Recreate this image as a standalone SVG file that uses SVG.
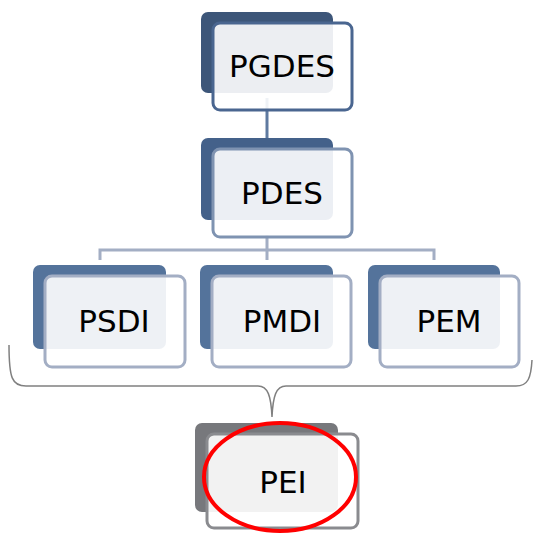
<svg xmlns="http://www.w3.org/2000/svg" width="533" height="533" viewBox="0 0 533 533">
<style>
  .lbl { font-family: "DejaVu Sans", Verdana, sans-serif; font-size: 31px; fill: #000; text-anchor: middle; }
  .front { fill: #ffffff; fill-opacity: 0.9; stroke-width: 3; }
  .conn { fill: none; stroke-width: 3; }
</style>
<rect width="533" height="533" fill="#ffffff"/>
<g id="connectors">
  <line class="conn" x1="267" y1="98" x2="267" y2="142" stroke="#5f7aa0"/>
  <path class="conn" d="M267,235 L267,250 M100,260 L100,250 L434,250 L434,260 M267,250 L267,260" stroke="#a3aec4"/>
  <path d="M9,345 C9,378 12,386 26,386 L258,386 C268,386 271,396 272,417 C273,396 276,386 286,386 L516,386 C528,386 531,378 532,360" fill="none" stroke="#808080" stroke-width="1.5"/>
</g>
<g id="PGDES">
  <rect x="201" y="12" width="132" height="81" rx="7" fill="#3d5679"/>
  <rect class="front" x="213" y="23" width="139" height="87" rx="7" stroke="#4a6690"/>
  <text class="lbl" x="282" y="77">PGDES</text>
</g>
<g id="PDES">
  <rect x="201" y="138" width="132" height="82" rx="7" fill="#44618a"/>
  <rect class="front" x="213" y="149" width="139" height="88" rx="7" stroke="#7f93b1"/>
  <text class="lbl" x="282" y="204">PDES</text>
</g>
<g id="PSDI">
  <rect x="33" y="265" width="133" height="84" rx="7" fill="#54739b"/>
  <rect class="front" x="45" y="276" width="140" height="91" rx="7" stroke="#a3aec4"/>
  <text class="lbl" x="114" y="332">PSDI</text>
</g>
<g id="PMDI">
  <rect x="200" y="265" width="133" height="84" rx="7" fill="#54739b"/>
  <rect class="front" x="212" y="276" width="139" height="91" rx="7" stroke="#a3aec4"/>
  <text class="lbl" x="282" y="332">PMDI</text>
</g>
<g id="PEM">
  <rect x="368" y="265" width="132" height="84" rx="7" fill="#54739b"/>
  <rect class="front" x="380" y="276" width="139" height="91" rx="7" stroke="#a3aec4"/>
  <text class="lbl" x="449" y="332">PEM</text>
</g>
<g id="PEI">
  <rect x="195" y="423" width="143" height="89" rx="7" fill="#77787c"/>
  <rect class="front" x="207" y="434" width="151" height="94" rx="7" stroke="#8a8b8f"/>
  <text class="lbl" x="283" y="493">PEI</text>
  <ellipse cx="280" cy="477" rx="76" ry="54" fill="none" stroke="#ff0000" stroke-width="4"/>
</g>
</svg>
